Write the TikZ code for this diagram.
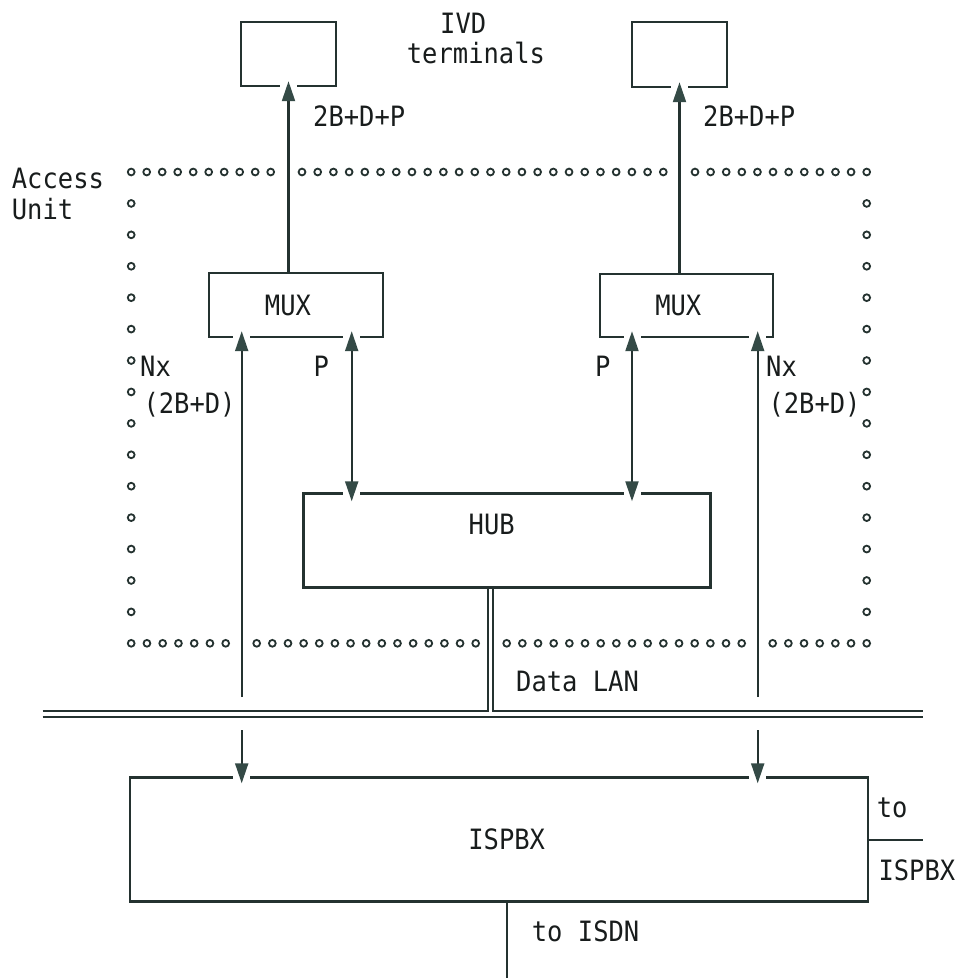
\documentclass[tikz,border=0pt]{standalone}
\usepackage{fontspec}
\newfontfamily\diafont[FakeStretch=0.91]{DejaVu Sans Mono}
\usetikzlibrary{arrows.meta,calc}
\definecolor{ink}{RGB}{36,50,48}
\definecolor{tipink}{RGB}{52,74,70}
\definecolor{txt}{RGB}{24,28,28}
\tikzset{
  box/.style={draw=ink, line width=2.4pt, inner sep=0pt},
  wire/.style={draw=ink, line width=2.1pt},
  arr/.style={wire, -{Triangle[length=20pt,width=13pt,color=tipink]}},
  darr/.style={wire, {Triangle[length=20pt,width=13pt,color=tipink]}-{Triangle[length=20pt,width=13pt,color=tipink]}},
  lbl/.style={font=\diafont\fontsize{28}{30}\selectfont, text=txt, inner sep=0pt},
  dot/.style={draw=ink, line width=1.8pt},
}
% white notch in a box border where an arrow head passes through
\newcommand\bordergap[1]{\fill[white] ($#1+(-8.5pt,-3pt)$) rectangle ($#1+(8.5pt,3pt)$);}
% evenly spaced ring marks from #1 to #2, #3 of them
\newcommand\dotrun[3]{\foreach \k in {1,...,#3} \draw[dot] ($#1!{(\k-1)/(#3-1)}!#2$) circle[radius=3.4pt];}

\begin{document}
\begin{tikzpicture}[x=1pt,y=-1pt]
\useasboundingbox (0,0) rectangle (958,978);

% ---- boxes ----
\node[box, minimum width=95pt,  minimum height=64pt] (termL) at (288.5,54) {};
\node[box, minimum width=95pt,  minimum height=65pt] (termR) at (679.5,54.5) {};
\node[box, minimum width=174pt, minimum height=64pt] (muxL)  at (296,305) {};
\node[box, minimum width=173pt, minimum height=63pt] (muxR)  at (686.7,305.5) {};
\node[box, minimum width=407pt, minimum height=94pt] (hub)   at (507,540.5) {};
\node[box, minimum width=738pt, minimum height=124pt] (pbx)  at (498.9,839.5) {};

% ---- signal path positions ----
\coordinate (xNL) at (241.7,0);
\coordinate (xPL) at (351.7,0);
\coordinate (xPR) at (632,0);
\coordinate (xNR) at (757.7,0);

% ---- data LAN ----
\coordinate (lanW)  at (42.7,711);
\coordinate (lanE)  at (923.3,711);
\coordinate (lanW2) at (42.7,717.3);
\coordinate (lanE2) at (923.3,717.3);
\coordinate (tapL)  at (488.3,711);
\coordinate (tapR)  at (493.3,711);
\coordinate (isdnEnd) at (506.7,978);
\coordinate (peerEnd) at (923.3,840);

% ---- notches for arrow heads ----
\bordergap{(termL.south)}
\bordergap{(termR.south)}
\bordergap{(xNL |- muxL.south)}
\bordergap{(xPL |- muxL.south)}
\bordergap{(xPR |- muxR.south)}
\bordergap{(xNR |- muxR.south)}
\bordergap{(xPL |- hub.north)}
\bordergap{(xPR |- hub.north)}
\bordergap{(xNL |- pbx.north)}
\bordergap{(xNR |- pbx.north)}

% ---- connectors ----
\draw[arr] (termL.south |- muxL.north) -- ($(termL.south)+(0pt,6pt)$);
\draw[arr] (termR.south |- muxR.north) -- ($(termR.south)+(0pt,6pt)$);

\draw[arr] ($(xNL |- lanW)+(0pt,14pt)$) -- ($(xNL |- muxL.south)+(0pt,7pt)$);
\draw[arr] ($(xNL |- lanW2)+(0pt,-13pt)$) -- ($(xNL |- pbx.north)+(0pt,-7pt)$);
\draw[arr] ($(xNR |- lanW)+(0pt,14pt)$) -- ($(xNR |- muxR.south)+(0pt,7pt)$);
\draw[arr] ($(xNR |- lanW2)+(0pt,-13pt)$) -- ($(xNR |- pbx.north)+(0pt,-7pt)$);

\draw[darr] ($(xPL |- muxL.south)+(0pt,7pt)$) -- ($(xPL |- hub.north)+(0pt,-9pt)$);
\draw[darr] ($(xPR |- muxR.south)+(0pt,7pt)$) -- ($(xPR |- hub.north)+(0pt,-9pt)$);

\draw[wire] (lanW) -- (tapL) -- (tapL |- hub.south);
\draw[wire] (tapR |- hub.south) -- (tapR) -- (lanE);
\draw[wire] (lanW2) -- (lanE2);

\draw[wire] (isdnEnd |- pbx.south) -- (isdnEnd);
\draw[wire] (pbx.east |- peerEnd) -- (peerEnd);

% ---- access unit boundary ----
\dotrun{(131.2,172)}{(270.7,172)}{10}
\dotrun{(302,172)}{(663.3,172)}{24}
\dotrun{(695,172)}{(866.7,172)}{12}
\dotrun{(131.2,643.3)}{(225.7,643.3)}{7}
\dotrun{(256.7,643.3)}{(475.7,643.3)}{15}
\dotrun{(506.7,643.3)}{(741.7,643.3)}{16}
\dotrun{(772.7,643.3)}{(866.7,643.3)}{7}
\foreach \k in {1,...,14} {
  \draw[dot] (131.2,{172+31.42*\k}) circle[radius=3.4pt];
  \draw[dot] (866.7,{172+31.42*\k}) circle[radius=3.4pt];
}

% ---- labels ----
\node[lbl, anchor=base west] (ivd)   at (440,33)   {IVD};
\node[lbl, anchor=base west] (ivd2)  at (406.7,63) {terminals};
\node[lbl, anchor=base west] (chL)   at (313,126)  {2B+D+P};
\node[lbl, anchor=base west] (chR)   at (703,126)  {2B+D+P};
\node[lbl, anchor=base west] (au1)   at (11.7,188) {Access};
\node[lbl, anchor=base west] (au2)   at (11.7,219) {Unit};
\node[lbl, anchor=base]      (muxLt) at (288,315)  {MUX};
\node[lbl, anchor=base]      (muxRt) at (678.3,315) {MUX};
\node[lbl, anchor=base west] (nxL1)  at (140,376.7) {Nx};
\node[lbl, anchor=base west] (nxL2)  at (143.3,413.3) {(2B+D)};
\node[lbl, anchor=base west] (pL)    at (313.3,376.7) {P};
\node[lbl, anchor=base west] (pR)    at (595,376.7) {P};
\node[lbl, anchor=base west] (nxR1)  at (766,376.7) {Nx};
\node[lbl, anchor=base west] (nxR2)  at (768.3,413.3) {(2B+D)};
\node[lbl, anchor=base]      (hubt)  at (491.7,534) {HUB};
\node[lbl, anchor=base west] (lant)  at (516,691.7) {Data LAN};
\node[lbl, anchor=base]      (pbxt)  at (506.7,849.3) {ISPBX};
\node[lbl, anchor=base west] (to1)   at (876.7,817.3) {to};
\node[lbl, anchor=base west] (to2)   at (878.3,880) {ISPBX};
\node[lbl, anchor=base west] (isdnt) at (531.7,941.7) {to ISDN};
\end{tikzpicture}
\end{document}
